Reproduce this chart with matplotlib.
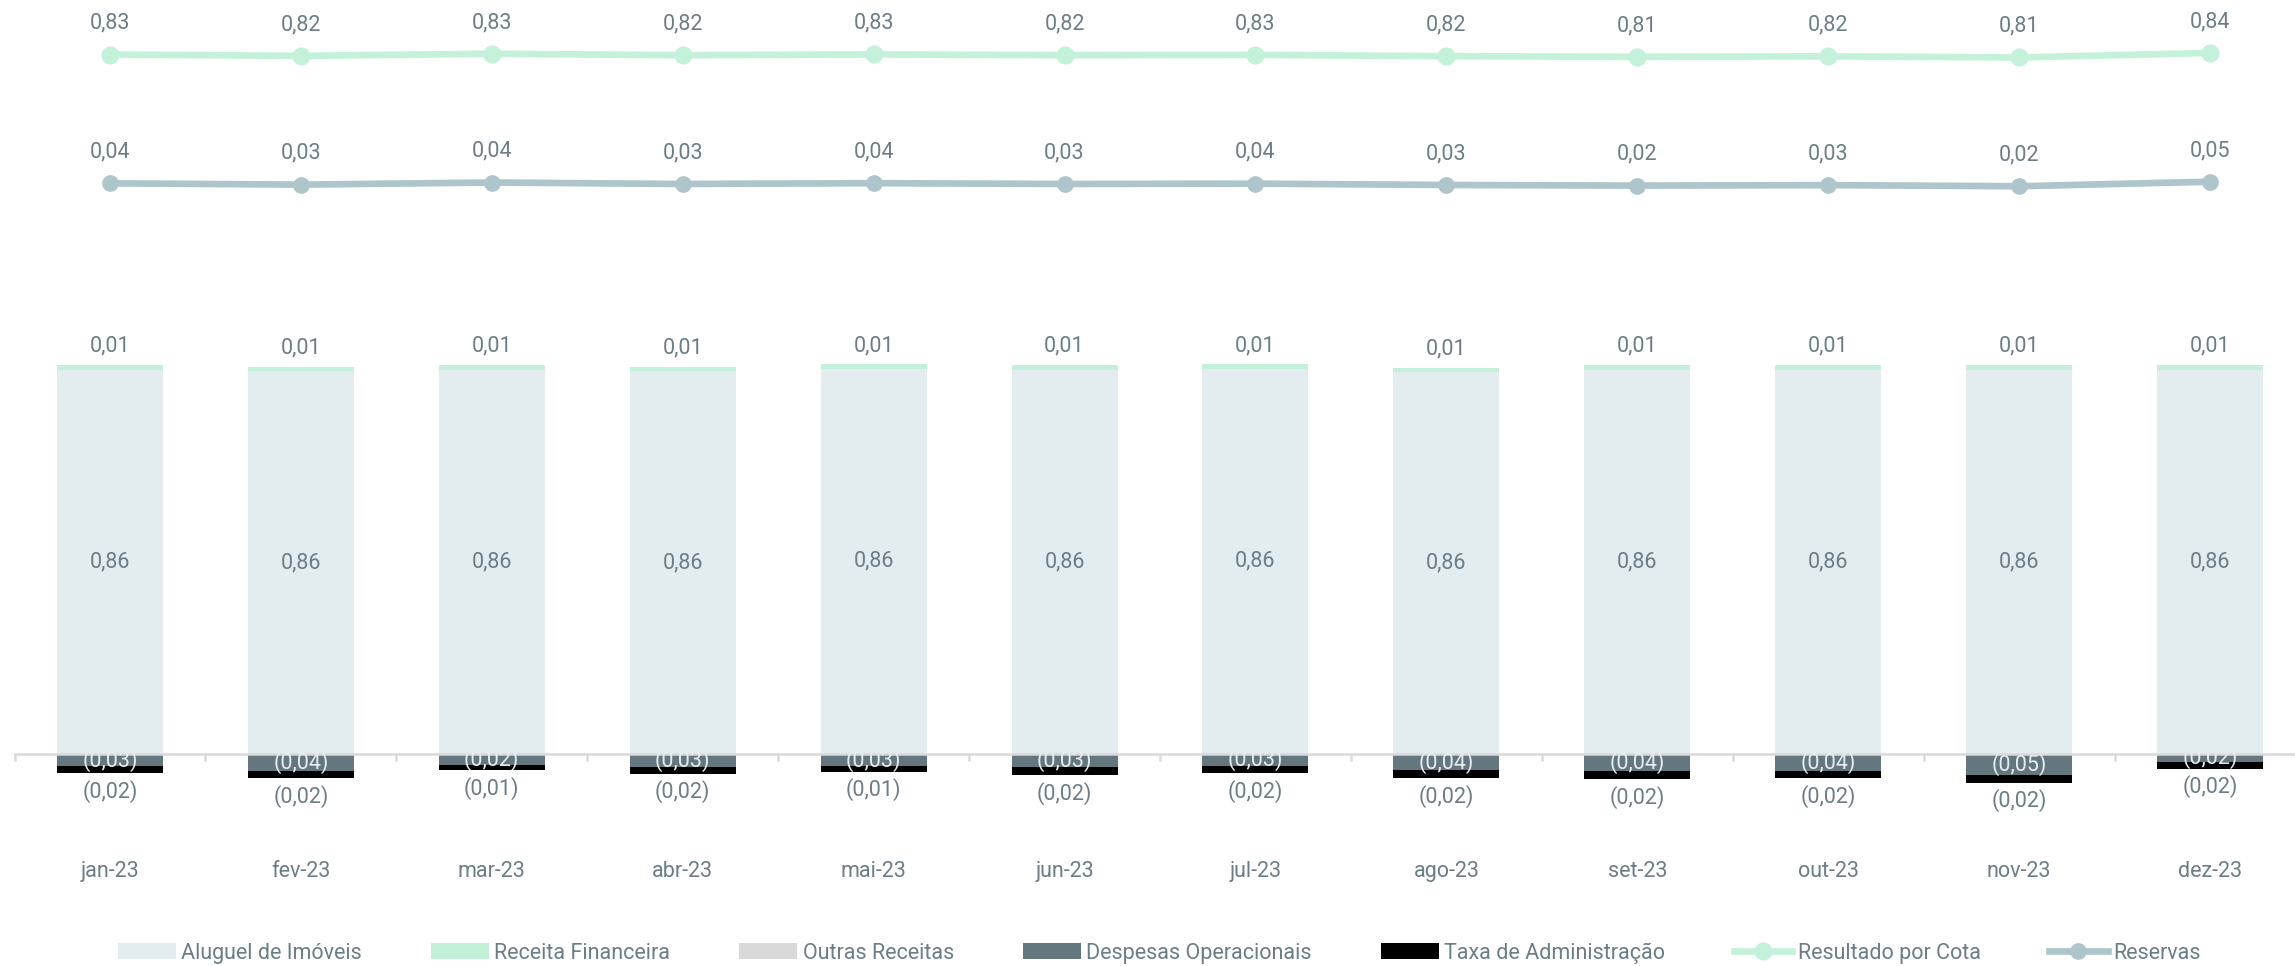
import numpy as np
import matplotlib.pyplot as plt

plt.rcParams['font.family'] = ['Roboto', 'DejaVu Sans']

# dados (R$/cota)
meses = ["jan-23", "fev-23", "mar-23", "abr-23", "mai-23", "jun-23",
         "jul-23", "ago-23", "set-23", "out-23", "nov-23", "dez-23"]
aluguel = [0.862, 0.858, 0.862, 0.858, 0.864, 0.862, 0.864, 0.856, 0.862, 0.862, 0.862, 0.862]
receita_fin = [0.010, 0.010, 0.010, 0.010, 0.010, 0.010, 0.010, 0.010, 0.010, 0.010, 0.010, 0.010]
outras = [0, 0, 0, 0, 0, 0, 0, 0, 0, 0, 0, 0]
despesas = [-0.027, -0.038, -0.024, -0.028, -0.027, -0.030, -0.026, -0.036, -0.038, -0.038, -0.048, -0.017]
taxa_adm = [-0.016, -0.016, -0.012, -0.016, -0.013, -0.017, -0.017, -0.018, -0.019, -0.016, -0.016, -0.016]
resultado = [0.828, 0.820, 0.833, 0.824, 0.829, 0.824, 0.826, 0.818, 0.814, 0.817, 0.810, 0.838]
reservas = [0.038, 0.030, 0.043, 0.034, 0.039, 0.034, 0.036, 0.028, 0.024, 0.027, 0.020, 0.048]

c_aluguel = "#e3ecef"
c_receita = "#c3f0d8"
c_outras = "#d9d9d9"
c_desp = "#64767e"
c_taxa = "#000000"
c_res = "#c4f1d9"
c_reserv = "#adc5cb"
c_text = "#6b7d86"


def fmt(v):
    s = f"{abs(v):.2f}".replace(".", ",")
    return f"({s})" if v < 0 else s


x = np.arange(len(meses))
w = 0.555

fig = plt.figure(figsize=(22.95, 9.66), dpi=100)
ax = fig.add_axes([0.00632, 0.1511, 0.99826, 0.8282])

alu = np.array(aluguel)
rec = np.array(receita_fin)
out = np.array(outras)
dsp = np.array(despesas)
tx = np.array(taxa_adm)

b1 = ax.bar(x, alu, w, color=c_aluguel, label="Aluguel de Imóveis")
b2 = ax.bar(x, rec, w, bottom=alu, color=c_receita, label="Receita Financeira")
b3 = ax.bar(x, out, w, bottom=alu + rec, color=c_outras, label="Outras Receitas")
b4 = ax.bar(x, dsp, w, color=c_desp, label="Despesas Operacionais")
b5 = ax.bar(x, tx, w, bottom=dsp, color=c_taxa, label="Taxa de Administração")

fs = 15.5
for i in x:
    ax.annotate(fmt(alu[i]), (i, alu[i] / 2), ha="center", va="center",
                fontsize=fs, color=c_text)
    ax.annotate(fmt(rec[i]), (i, alu[i] + rec[i]), xytext=(0, 13.5),
                textcoords="offset points", ha="center", va="center",
                fontsize=fs, color=c_text)
    ax.annotate(fmt(dsp[i]), (i, dsp[i] / 2), ha="center", va="center",
                fontsize=fs, color="#e6edf0")
    ax.annotate(fmt(tx[i]), (i, dsp[i] + tx[i]), xytext=(0, -13),
                textcoords="offset points", ha="center", va="center",
                fontsize=fs, color=c_text)

ax.set_xlim(-0.5, 11.5)
ax.set_ylim(-0.148, 1.646)
for s in ["top", "right", "left"]:
    ax.spines[s].set_visible(False)
ax.spines["bottom"].set_position(("data", 0))
ax.spines["bottom"].set_color("#d9d9d9")
ax.spines["bottom"].set_linewidth(1.8)
ax.set_yticks([])
ax.set_xticks(x)
ax.set_xticklabels(meses, fontsize=fs, color=c_text)
ax.tick_params(axis="x", which="major", length=0, pad=77)
ax.set_xticks(np.arange(-0.5, 12, 1), minor=True)
ax.tick_params(axis="x", which="minor", length=5, width=1.8, color="#d9d9d9",
               direction="out")

# linhas no eixo secundario
ax2 = ax.twinx()
ax2.set_ylim(-3.868, 1.040)
ax2.axis("off")
l1, = ax2.plot(x, resultado, "-o", color=c_res, lw=4.8, ms=12,
               label="Resultado por Cota")
l2, = ax2.plot(x, reservas, "-o", color=c_reserv, lw=4.8, ms=11,
               label="Reservas")
for i in x:
    ax2.annotate(fmt(resultado[i]), (i, resultado[i]), xytext=(0, 22.5),
                 textcoords="offset points", ha="center", va="center",
                 fontsize=fs, color=c_text)
    ax2.annotate(fmt(reservas[i]), (i, reservas[i]), xytext=(0, 22.5),
                 textcoords="offset points", ha="center", va="center",
                 fontsize=fs, color=c_text)

handles = [b1, b2, b3, b4, b5, l1, l2]
leg = fig.legend(handles=handles, loc="center", bbox_to_anchor=(0.505, 0.0135),
                 ncol=7, frameon=False, fontsize=fs, handlelength=2.7,
                 handletextpad=0.25, columnspacing=3.2, numpoints=1)
for t in leg.get_texts():
    t.set_color(c_text)

plt.savefig("out.png", dpi=100)
